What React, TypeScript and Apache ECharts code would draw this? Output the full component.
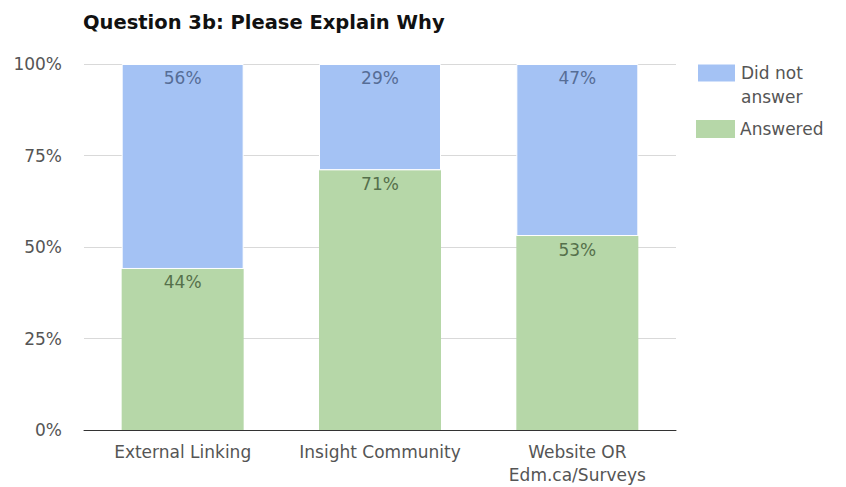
import React, { useEffect, useRef } from "react";
import * as echarts from "echarts";

const categories = ["External Linking", "Insight Community", "Website OR\nEdm.ca/Surveys"];
const answered = [44, 71, 53];
const didNotAnswer = [56, 29, 47];
const yTicks = [0, 25, 50, 75, 100];
const titleText = "Question 3b: Please Explain Why";

const FONT = "DejaVu Sans";

export default function App() {
  const ref = useRef<HTMLDivElement>(null);
  useEffect(() => {
    if (!ref.current) return;
    const chart = echarts.init(ref.current, undefined, { renderer: "svg" });
    chart.setOption({
      animation: false,
      backgroundColor: "#ffffff",
      title: {
        text: titleText,
        left: 78,
        top: 7,
        textStyle: { fontFamily: FONT, fontWeight: "bold", fontSize: 19.5, color: "#111" },
      },
      legend: [
        {
          data: ["Did not answer"],
          orient: "vertical",
          left: 691,
          top: 32,
          itemWidth: 39,
          itemHeight: 19,
          icon: "rect",
          formatter: () => "\nDid not\nanswer",
          textStyle: {
            fontFamily: FONT,
            fontSize: 17,
            color: "#555",
            lineHeight: 24,
          },
        },
        {
          data: ["Answered"],
          orient: "vertical",
          left: 691,
          top: 115,
          itemWidth: 39,
          itemHeight: 18,
          icon: "rect",
          textStyle: { fontFamily: FONT, fontSize: 17, color: "#555" },
        },
      ],
      grid: { left: 84, right: 170, top: 64, bottom: 57, containLabel: false },
      xAxis: {
        type: "category",
        data: categories,
        axisTick: { show: false },
        axisLine: { lineStyle: { color: "#333", width: 1 } },
        axisLabel: {
          fontFamily: FONT,
          fontSize: 17,
          color: "#555",
          lineHeight: 23,
          margin: 10,
          interval: 0,
        },
      },
      yAxis: {
        type: "value",
        min: yTicks[0],
        max: yTicks[yTicks.length - 1],
        interval: 25,
        axisLine: { show: false },
        axisTick: { show: false },
        splitLine: { lineStyle: { color: "#d9d9d9" } },
        axisLabel: {
          fontFamily: FONT,
          fontSize: 17,
          color: "#555",
          margin: 22,
          formatter: "{value}%",
        },
      },
      series: [
        {
          name: "Answered",
          type: "bar",
          stack: "total",
          data: answered,
          barWidth: 122,
          itemStyle: { color: "#b6d7a8", borderColor: "#ffffff", borderWidth: 0 },
          label: {
            show: true,
            position: "insideTop",
            distance: 5,
            formatter: "{c}%",
            fontFamily: FONT,
            fontSize: 17,
            color: "#55704b",
          },
        },
        {
          name: "Did not answer",
          type: "bar",
          stack: "total",
          data: didNotAnswer,
          barWidth: 122,
          itemStyle: { color: "#a4c2f4", borderColor: "#ffffff", borderWidth: 1 },
          label: {
            show: true,
            position: "insideTop",
            distance: 5,
            formatter: "{c}%",
            fontFamily: FONT,
            fontSize: 17,
            color: "#566d96",
          },
        },
      ],
    });
    return () => chart.dispose();
  }, []);
  return (
    <div
      ref={ref}
      style={{ position: "fixed", left: 0, top: 0, width: 846, height: 487 }}
    />
  );
}
